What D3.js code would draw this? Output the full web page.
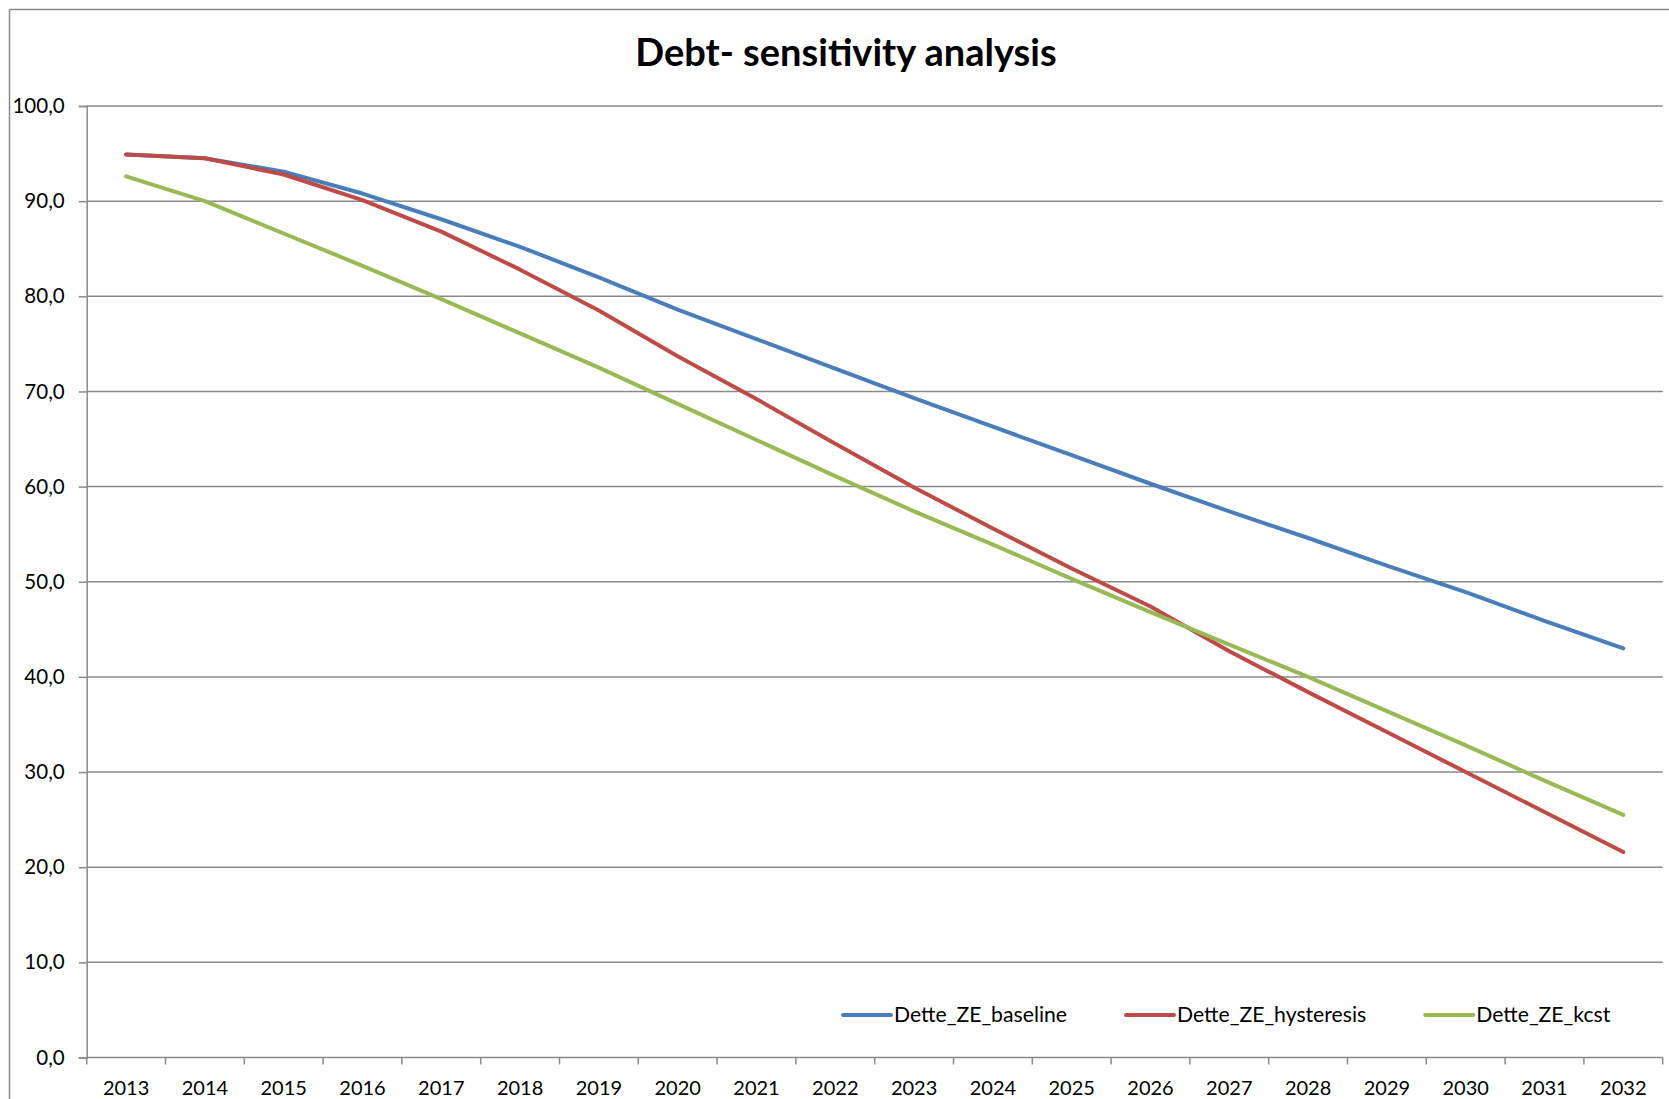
<!DOCTYPE html>
<html>
<head>
<meta charset="utf-8">
<script src="https://cdn.jsdelivr.net/npm/d3@7"></script>
<style>
  html, body { margin: 0; padding: 0; background: #ffffff; }
  svg { display: block; }
  text { font-family: Lato, "Open Sans", "Liberation Sans", sans-serif; fill: #000; }
</style>
</head>
<body>
<svg id="chart" width="1669" height="1099"></svg>
<script>
// Years on the category axis
const years = [2013, 2014, 2015, 2016, 2017, 2018, 2019, 2020, 2021, 2022,
               2023, 2024, 2025, 2026, 2027, 2028, 2029, 2030, 2031, 2032];

// Debt ratio paths for each scenario
const detteBaseline   = [94.9, 94.5, 93.1, 90.8, 88.1, 85.2, 82.0, 78.6, 75.5, 72.4,
                         69.3, 66.3, 63.3, 60.3, 57.4, 54.6, 51.7, 48.9, 45.9, 43.0];
const detteHysteresis = [94.9, 94.5, 92.8, 90.1, 86.8, 82.8, 78.5, 73.7, 69.2, 64.5,
                         59.9, 55.6, 51.4, 47.4, 42.7, 38.4, 34.2, 30.0, 25.8, 21.6];
const detteKcst       = [92.6, 90.0, 86.6, 83.2, 79.7, 76.1, 72.5, 68.7, 64.9, 61.1,
                         57.4, 53.9, 50.3, 46.8, 43.4, 40.0, 36.4, 32.8, 29.1, 25.5];

const seriesNames  = ["Dette_ZE_baseline", "Dette_ZE_hysteresis", "Dette_ZE_kcst"];
const seriesColors = ["#4A7EBB", "#BE4B48", "#98B954"];
const yTicks = [0, 10, 20, 30, 40, 50, 60, 70, 80, 90, 100];
const titleText = "Debt- sensitivity analysis";

const series = [detteBaseline, detteHysteresis, detteKcst].map((vals, i) => ({
  name: seriesNames[i],
  color: seriesColors[i],
  values: years.map((yr, j) => ({ year: yr, value: vals[j] }))
}));

const svg = d3.select("#chart");
const W = 1669, H = 1099;
const plot = { left: 86.7, right: 1662.7, top: 106, bottom: 1057.5 };
const gridColor = "#8a8a8a";

// Chart frame
svg.append("rect")
  .attr("x", 9.5).attr("y", 9.5)
  .attr("width", W + 20).attr("height", H + 20)
  .attr("fill", "#fff")
  .attr("stroke", gridColor).attr("stroke-width", 1.5);

// Title
svg.append("text")
  .attr("x", 846).attr("y", 66)
  .attr("text-anchor", "middle")
  .style("font-weight", "700")
  .style("font-size", "38px")
  .text(titleText);

const x = d3.scaleBand().domain(years).range([plot.left, plot.right]).padding(0);
const y = d3.scaleLinear().domain([0, 100]).range([plot.bottom, plot.top]);

const locale = d3.formatLocale({ decimal: ",", thousands: " ", grouping: [3], currency: ["", "€"] });
const fmt = locale.format(".1f");

// Horizontal gridlines
svg.append("g")
  .selectAll("line")
  .data(yTicks.filter(d => d > 0))
  .join("line")
  .attr("x1", plot.left).attr("x2", plot.right)
  .attr("y1", d => y(d)).attr("y2", d => y(d))
  .attr("stroke", gridColor).attr("stroke-width", 1.5);

// Y axis
const yAxis = svg.append("g")
  .attr("transform", `translate(${plot.left},0)`)
  .call(d3.axisLeft(y).tickValues(yTicks).tickFormat(fmt).tickSize(8).tickPadding(14));
yAxis.select(".domain").attr("stroke", gridColor).attr("stroke-width", 1.5);
yAxis.selectAll(".tick line").attr("stroke", gridColor).attr("stroke-width", 1.5);
yAxis.selectAll(".tick text")
  .style("font-size", "20.5px")
  .attr("fill", "#000");

// X axis: labels centred on categories, tick marks between them
const xAxis = svg.append("g")
  .attr("transform", `translate(0,${plot.bottom})`)
  .call(d3.axisBottom(x).tickSize(0).tickPadding(0));
xAxis.select(".domain").remove();
xAxis.selectAll(".tick text")
  .attr("y", 37).attr("dy", null)
  .style("font-size", "20px")
  .attr("fill", "#000");

const boundaries = years.map(d => x(d)).concat([x(years[years.length - 1]) + x.bandwidth()]);
svg.append("g")
  .selectAll("line")
  .data(boundaries)
  .join("line")
  .attr("x1", d => d).attr("x2", d => d)
  .attr("y1", plot.bottom).attr("y2", plot.bottom + 7)
  .attr("stroke", gridColor).attr("stroke-width", 1.5);
svg.append("line")
  .attr("x1", plot.left).attr("x2", plot.right)
  .attr("y1", plot.bottom).attr("y2", plot.bottom)
  .attr("stroke", gridColor).attr("stroke-width", 1.5);

// Series lines
const line = d3.line()
  .x(d => x(d.year) + x.bandwidth() / 2)
  .y(d => y(d.value));

svg.append("g")
  .selectAll("path")
  .data(series)
  .join("path")
  .attr("d", d => line(d.values))
  .attr("fill", "none")
  .attr("stroke", d => d.color)
  .attr("stroke-width", 4)
  .attr("stroke-linecap", "round")
  .attr("stroke-linejoin", "round");

// Legend
const legend = svg.append("g");
let lx = 843;
const ly = 1015;
series.forEach(s => {
  const g = legend.append("g");
  g.append("line")
    .attr("x1", lx).attr("x2", lx + 48)
    .attr("y1", ly).attr("y2", ly)
    .attr("stroke", s.color).attr("stroke-width", 4)
    .attr("stroke-linecap", "round");
  const t = g.append("text")
    .attr("x", lx + 51).attr("y", ly)
    .attr("dy", "0.35em")
    .style("font-size", "21.2px")
    .text(s.name);
  lx += 51 + t.node().getComputedTextLength() + 59;
});
</script>
</body>
</html>
